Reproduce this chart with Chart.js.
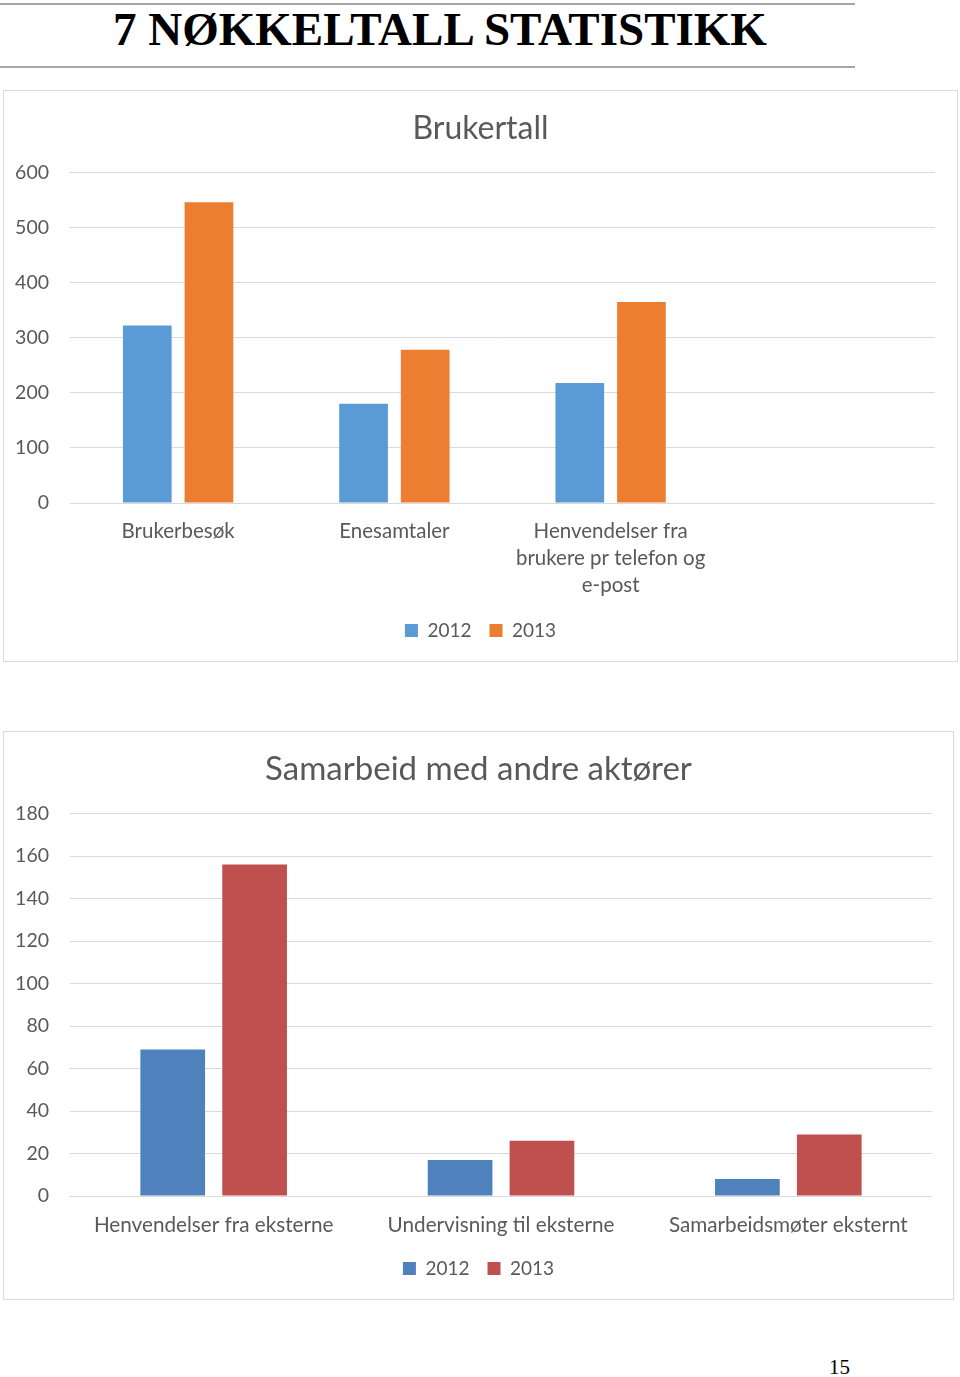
<!DOCTYPE html>
<html>
<head>
<meta charset="utf-8">
<script src="https://cdn.jsdelivr.net/npm/chart.js@4.4.1/dist/chart.umd.min.js"></script>
<style>
  body { margin: 0; width: 960px; height: 1377px; background: #fff; position: relative; overflow: hidden; }
  .rule { position: absolute; left: 0; width: 855px; height: 2px; background: #a6a6a6; }
  #heading { position: absolute; left: 113px; top: 2px; font-family: "Liberation Serif", serif; font-weight: bold; font-size: 47px; color: #000; white-space: nowrap; }
  .box { position: absolute; border: 1px solid #d9d9d9; }
  .box canvas { position: absolute; left: 0; top: 0; }
  #page { position: absolute; left: 829px; top: 1355px; font-family: "Liberation Serif", serif; font-size: 21px; }
</style>
</head>
<body>
<div class="rule" style="top:3px"></div>
<div id="heading">7 NØKKELTALL STATISTIKK</div>
<div class="rule" style="top:66px"></div>

<div class="box" style="left:3px; top:90px; width:953px; height:570px;"><canvas id="chart1" width="953" height="570"></canvas></div>
<div class="box" style="left:3px; top:731px; width:949px; height:567px;"><canvas id="chart2" width="949" height="567"></canvas></div>

<div id="page">15</div>

<script>
// Brukertall
const brukerCategories = ['Brukerbesøk', 'Enesamtaler', ['Henvendelser fra', 'brukere pr telefon og', 'e-post'], ''];
const bruker2012 = [322, 180, 218, null];
const bruker2013 = [546, 278, 365, null];

// Samarbeid med andre aktører
const samarbeidCategories = ['Henvendelser fra eksterne', 'Undervisning til eksterne', 'Samarbeidsmøter eksternt'];
const samarbeid2012 = [69, 17, 8];
const samarbeid2013 = [156, 26, 29];

const seriesLabels = ['2012', '2013'];

const FONT = 'Lato, "Open Sans", sans-serif';
const TEXT = '#595959';
const GRID = '#d9d9d9';

function createChart({ id, title, titleSize, titleBottom, labels, a, b, colors, max, step,
                       padRight, padBottom, catSize, xPad, xTrim }) {
    const ctx = document.getElementById(id).getContext('2d');
    new Chart(ctx, {
        type: 'bar',
        data: {
            labels: labels,
            datasets: [
                { label: seriesLabels[0], data: a, backgroundColor: colors[0], borderWidth: 0,
                  categoryPercentage: 0.57, barPercentage: 0.79 },
                { label: seriesLabels[1], data: b, backgroundColor: colors[1], borderWidth: 0,
                  categoryPercentage: 0.57, barPercentage: 0.79 },
            ],
        },
        options: {
            responsive: false,
            animation: false,
            layout: { padding: { left: 0, right: 0, top: 0, bottom: padBottom } },
            plugins: {
                title: {
                    display: true,
                    text: title,
                    color: TEXT,
                    font: { family: FONT, size: titleSize, weight: 'normal' },
                    padding: { top: 18, bottom: titleBottom },
                },
                legend: {
                    position: 'bottom',
                    labels: {
                        color: TEXT,
                        font: { family: FONT, size: 19 },
                        boxWidth: 13,
                        boxHeight: 13,
                        padding: 18,
                    },
                },
                tooltip: { enabled: false },
            },
            scales: {
                x: {
                    grid: { display: false },
                    border: { display: false },
                    ticks: {
                        color: TEXT,
                        font: { family: FONT, size: catSize, lineHeight: 27 / catSize },
                        padding: xPad,
                        maxRotation: 0,
                        autoSkip: false,
                    },
                    afterFit: function (scale) { scale.height -= xTrim; },
                },
                y: {
                    min: 0,
                    max: max,
                    grid: { color: GRID, lineWidth: 1, drawTicks: false },
                    border: { display: false },
                    ticks: {
                        stepSize: step,
                        color: TEXT,
                        font: { family: FONT, size: 19.5 },
                        padding: 21,
                    },
                    afterFit: function (scale) { scale.width = 66; },
                },
                // empty right margin so title and legend center on the whole box
                margin: {
                    position: 'right',
                    grid: { display: false },
                    border: { display: false },
                    ticks: { display: false },
                    afterFit: function (scale) { scale.width = padRight; },
                },
            },
        },
    });
}

createChart({
    id: 'chart1', title: 'Brukertall', titleSize: 32, titleBottom: 25,
    labels: brukerCategories, a: bruker2012, b: bruker2013,
    colors: ['#5b9bd5', '#ed7d31'], max: 600, step: 100,
    padRight: 22, padBottom: 11, catSize: 20.5, xPad: 7, xTrim: 3,
});

createChart({
    id: 'chart2', title: 'Samarbeid med andre aktører', titleSize: 33, titleBottom: 24,
    labels: samarbeidCategories, a: samarbeid2012, b: samarbeid2013,
    colors: ['#4f81bd', '#c0504d'], max: 180, step: 20,
    padRight: 21, padBottom: 11, catSize: 20.7, xPad: 8, xTrim: 6,
});
</script>
</body>
</html>
